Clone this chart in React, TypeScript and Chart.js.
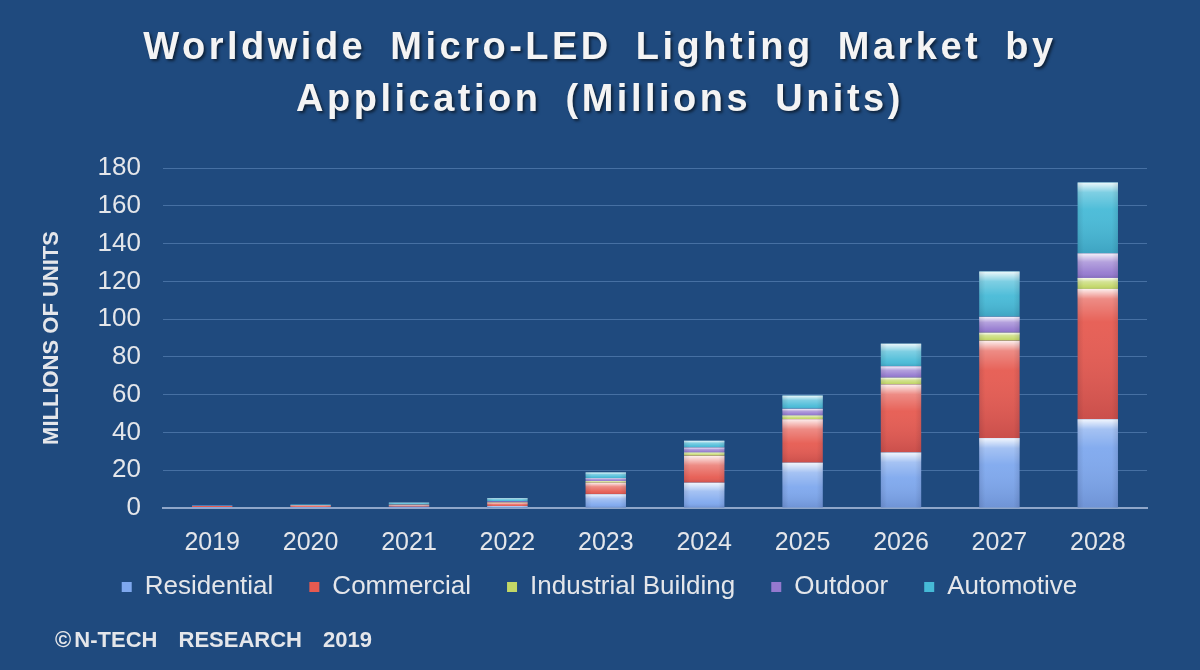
import React, { useEffect, useRef } from "react";
import { Chart, registerables } from "chart.js";

Chart.register(...registerables);

const years = ["2019", "2020", "2021", "2022", "2023", "2024", "2025", "2026", "2027", "2028"];
const residential = [0.5, 0.5, 0.6, 1.0, 7.3, 13.4, 24, 29.4, 37, 47];
const commercial = [0.5, 0.8, 0.9, 1.8, 6.1, 14.2, 23, 36, 51.5, 69];
const industrial = [0.1, 0.1, 0.2, 0.3, 0.9, 1.8, 2, 3.6, 4.3, 5.8];
const outdoor = [0.1, 0.2, 0.3, 0.5, 1.5, 2.6, 3.5, 6, 8.4, 13];
const automotive = [0.2, 0.3, 0.8, 1.5, 3, 3.6, 7, 12, 24, 37.5];
const yTicks = [0, 20, 40, 60, 80, 100, 120, 140, 160, 180];

const BG = "#1F4A7E";
const TEXT = "#E4E6EA";
const FONT = "'Liberation Sans', Arial, sans-serif";

const glossPlugin = {
  id: "gloss",
  afterDatasetsDraw(chart: any) {
    const ctx = chart.ctx;
    chart.data.datasets.forEach((_: any, di: number) => {
      const meta = chart.getDatasetMeta(di);
      if (meta.hidden) return;
      meta.data.forEach((el: any) => {
        const { x, y, base, width } = el.getProps(["x", "y", "base", "width"], true);
        const top = Math.min(y, base);
        const h = Math.abs(base - y);
        if (h < 1) return;
        const left = x - width / 2;
        ctx.save();
        const g = ctx.createLinearGradient(0, top, 0, top + h);
        const hl = Math.min(0.35, 10 / h);
        g.addColorStop(0, "rgba(255,255,255,0.9)");
        g.addColorStop(hl, "rgba(255,255,255,0.3)");
        g.addColorStop(Math.min(0.9, hl * 2 + 0.1), "rgba(255,255,255,0.05)");
        g.addColorStop(1, "rgba(0,0,40,0.12)");
        ctx.fillStyle = g;
        ctx.fillRect(left, top, width, h);
        const gs = ctx.createLinearGradient(left, 0, left + width, 0);
        gs.addColorStop(0, "rgba(0,0,40,0.10)");
        gs.addColorStop(0.15, "rgba(0,0,0,0)");
        gs.addColorStop(0.85, "rgba(0,0,0,0)");
        gs.addColorStop(1, "rgba(0,0,40,0.10)");
        ctx.fillStyle = gs;
        ctx.fillRect(left, top, width, h);
        ctx.restore();
      });
    });
  },
};

const legendShift = {
  id: "legendShift",
  afterLayout(chart: any) {
    const lg = chart.legend;
    if (lg) {
      lg.top -= 30;
      lg.bottom -= 30;
      lg.left += 26;
      lg.right += 26;
    }
  },
};

export default function App() {
  const ref = useRef<HTMLCanvasElement>(null);

  useEffect(() => {
    if (!ref.current) return;
    const mk = (label: string, data: number[], color: string) => ({
      label,
      data,
      backgroundColor: color,
      borderWidth: 0,
      stack: "s",
      categoryPercentage: 1,
      barPercentage: 0.41,
    });
    const chart = new Chart(ref.current, {
      type: "bar",
      data: {
        labels: years,
        datasets: [
          mk("Residential", residential, "#7EA8EE"),
          mk("Commercial", commercial, "#E65A50"),
          mk("Industrial Building", industrial, "#C2D766"),
          mk("Outdoor", outdoor, "#9479CF"),
          mk("Automotive", automotive, "#46BAD7"),
        ],
      },
      options: {
        animation: false,
        responsive: false,
        maintainAspectRatio: false,
        layout: { padding: { top: 168, left: 0, right: 53, bottom: 30 } },
        plugins: {
          title: { display: false },
          tooltip: { enabled: false },
          legend: {
            position: "bottom",
            labels: {
              color: TEXT,
              font: { family: FONT, size: 26 },
              boxWidth: 10,
              boxHeight: 10,
              padding: 36,
            },
          },
        },
        scales: {
          x: {
            stacked: true,
            grid: { display: false, drawTicks: false },
            border: { display: true, color: "#8FA6C9", width: 2 },
            ticks: { color: TEXT, font: { family: FONT, size: 25 }, padding: 20 },
            afterFit: (s: any) => {
              s.height = 60;
            },
          },
          y: {
            stacked: true,
            min: 0,
            max: 180,
            afterBuildTicks: (s: any) => {
              s.ticks = yTicks.map((v) => ({ value: v }));
            },
            grid: { color: "rgba(130,170,220,0.4)", lineWidth: 1, drawTicks: false },
            border: { display: false },
            ticks: { color: TEXT, font: { family: FONT, size: 26 }, padding: 22 },
            title: {
              display: true,
              text: "MILLIONS OF UNITS",
              color: TEXT,
              font: { family: FONT, size: 22, weight: "bold" },
              padding: { top: 39, bottom: 0 },
            },
            afterFit: (s: any) => {
              s.width = 163;
            },
          },
        },
      },
      plugins: [glossPlugin, legendShift],
    });
    return () => chart.destroy();
  }, []);

  return (
    <div
      style={{
        position: "fixed",
        left: 0,
        top: 0,
        width: 1200,
        height: 670,
        background: BG,
        overflow: "hidden",
        fontFamily: FONT,
      }}
    >
      <canvas ref={ref} width={1200} height={670} style={{ position: "absolute", left: 0, top: 0 }} />
      <div
        style={{
          position: "absolute",
          left: 0,
          top: 20,
          width: 1200,
          textAlign: "center",
          color: "#F4F4F4",
          fontWeight: "bold",
          fontSize: 38,
          lineHeight: "52px",
          letterSpacing: "3.5px",
          wordSpacing: "10px",
          textShadow: "2px 2px 3px rgba(0,0,0,0.55)",
        }}
      >
        <div>Worldwide Micro-LED Lighting Market by</div>
        <div>Application (Millions Units)</div>
      </div>
      <div
        style={{
          position: "absolute",
          left: 55,
          top: 627,
          color: TEXT,
          fontWeight: "bold",
          fontSize: 22,
          whiteSpace: "pre",
        }}
      >
        <span style={{ marginRight: -3 }}>© </span>
        <span style={{ wordSpacing: "15px" }}>N-TECH RESEARCH 2019</span>
      </div>
    </div>
  );
}
